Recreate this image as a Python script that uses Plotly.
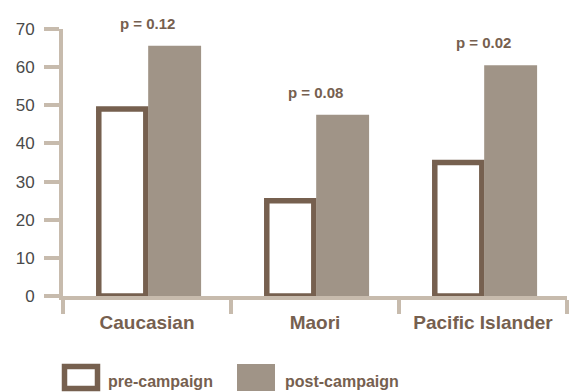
import plotly.graph_objects as go

categories = ["Caucasian", "Maori", "Pacific Islander"]
pre_campaign = [49, 25, 35]
post_campaign = [65.6, 47.5, 60.5]
p_values = ["p = 0.12", "p = 0.08", "p = 0.02"]
y_ticks = [0, 10, 20, 30, 40, 50, 60, 70]

BROWN = "#76604F"
TAUPE = "#A09487"
AXIS = "#C7BBAD"
TEXT = "#4A4A4A"

fig = go.Figure()
fig.add_trace(go.Bar(
    x=categories, y=pre_campaign, name="pre-campaign",
    width=0.28, offset=-0.287,
    marker=dict(color="white", line=dict(color=BROWN, width=5.5)),
    showlegend=False,
))
fig.add_trace(go.Bar(
    x=categories, y=post_campaign, name="post-campaign",
    width=0.315, offset=0.007,
    marker=dict(color=TAUPE, line=dict(width=0)),
    showlegend=False,
))

for c, v, p in zip(categories, post_campaign, p_values):
    fig.add_annotation(x=c, y=v, text=f"<b>{p}</b>", showarrow=False,
                       yanchor="bottom", yshift=12,
                       font=dict(family="Liberation Sans, Arial", size=15, color=BROWN))

# manual legend
fig.add_shape(type="rect", xref="paper", yref="paper",
              x0=(64.5 - 63) / 504, x1=(97.5 - 63) / 504,
              y0=-(366.5 - 296) / 267, y1=-(388.5 - 296) / 267,
              line=dict(color=BROWN, width=5.5), fillcolor="white")
fig.add_shape(type="rect", xref="paper", yref="paper",
              x0=(237 - 63) / 504, x1=(275 - 63) / 504,
              y0=-(364 - 296) / 267, y1=-(391 - 296) / 267,
              line=dict(width=0), fillcolor=TAUPE)
fig.add_annotation(xref="paper", yref="paper", x=(106 - 63) / 504, y=-(392 - 296) / 267,
                   xanchor="left", yanchor="bottom", text="<b>pre-campaign</b>", showarrow=False,
                   font=dict(family="Liberation Sans, Arial", size=16, color=BROWN))
fig.add_annotation(xref="paper", yref="paper", x=(283 - 63) / 504, y=-(392 - 296) / 267,
                   xanchor="left", yanchor="bottom", text="<b>post-campaign</b>", showarrow=False,
                   font=dict(family="Liberation Sans, Arial", size=16, color=BROWN))

fig.update_layout(
    width=577, height=392,
    margin=dict(l=63, r=10, t=29, b=96),
    paper_bgcolor="white", plot_bgcolor="white",
    barmode="overlay",
    xaxis=dict(
        type="category", range=[-0.5, 2.5],
        showline=True, linecolor=AXIS, linewidth=4,
        ticks="outside", tickson="boundaries", ticklen=14, tickwidth=4, tickcolor=AXIS,
        showgrid=False, zeroline=False,
        tickfont=dict(family="Liberation Sans, Arial", size=19, color=BROWN, weight="bold"),
        ticklabelstandoff=6,
    ),
    yaxis=dict(
        range=[0, 70], tickvals=y_ticks,
        showline=True, linecolor=AXIS, linewidth=4,
        ticks="outside", ticklen=15, tickwidth=4, tickcolor=AXIS,
        showgrid=False, zeroline=False,
        tickfont=dict(family="Liberation Sans, Arial", size=17, color=TEXT),
        ticklabelstandoff=6,
    ),
)

fig.write_html("out.html", config={"displayModeBar": False},
               post_script="document.body.style.margin='0px';document.body.style.overflow='hidden';")
